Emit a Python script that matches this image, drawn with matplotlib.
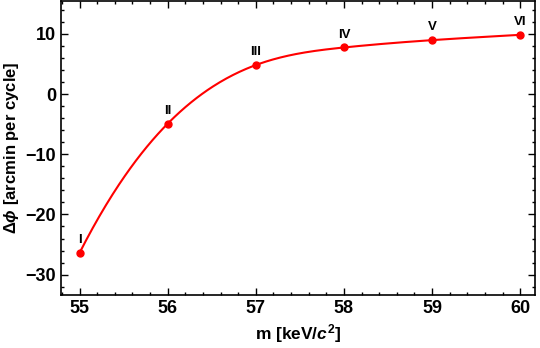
import numpy as np
import matplotlib.pyplot as plt
from matplotlib.ticker import MultipleLocator

# data
mass = [55, 56, 57, 58, 59, 60]
dphi = [-26.4, -4.93, 4.81, 7.73, 8.95, 9.83]
labels = ["I", "II", "III", "IV", "V", "VI"]


def spline_notaknot(x, y, xs):
    # not-a-knot cubic spline through the points, only for drawing the smooth line
    x = np.asarray(x, float)
    y = np.asarray(y, float)
    n = len(x)
    h = np.diff(x)
    A = np.zeros((n, n))
    b = np.zeros(n)
    A[0, 0] = h[1]
    A[0, 1] = -(h[0] + h[1])
    A[0, 2] = h[0]
    A[-1, -3] = h[-1]
    A[-1, -2] = -(h[-2] + h[-1])
    A[-1, -1] = h[-2]
    for i in range(1, n - 1):
        A[i, i - 1] = h[i - 1]
        A[i, i] = 2 * (h[i - 1] + h[i])
        A[i, i + 1] = h[i]
        b[i] = 3 * ((y[i + 1] - y[i]) / h[i] - (y[i] - y[i - 1]) / h[i - 1])
    c = np.linalg.solve(A, b)
    idx = np.clip(np.searchsorted(x, xs) - 1, 0, n - 2)
    dx = xs - x[idx]
    hi = h[idx]
    bb = (y[idx + 1] - y[idx]) / hi - hi * (2 * c[idx] + c[idx + 1]) / 3
    d = (c[idx + 1] - c[idx]) / (3 * hi)
    return y[idx] + bb * dx + c[idx] * dx ** 2 + d * dx ** 3


plt.rcParams['font.family'] = ['Liberation Sans', 'DejaVu Sans']
plt.rcParams['mathtext.fontset'] = 'custom'
plt.rcParams['mathtext.rm'] = 'Liberation Sans:bold'
plt.rcParams['mathtext.it'] = 'Liberation Sans:bold:italic'
plt.rcParams['mathtext.bf'] = 'Liberation Sans:bold'

fig = plt.figure(figsize=(5.4, 3.48), dpi=100)
ax = fig.add_axes([0.113, 0.152, 0.878, 0.846])

xs = np.linspace(mass[0], mass[-1], 400)
ax.plot(xs, spline_notaknot(mass, dphi, xs), color="red", lw=1.5)
ax.plot(mass, dphi, "o", color="red", ms=5)

for m, v, lab in zip(mass, dphi, labels):
    ax.annotate(lab, (m, v), xytext=(0, 5), textcoords="offset points",
                ha="center", va="bottom", fontsize=9.5, fontweight="bold")

ax.set_xlim(54.79, 60.17)
ax.set_ylim(-33.4, 15.5)
ax.xaxis.set_major_locator(MultipleLocator(1))
ax.xaxis.set_minor_locator(MultipleLocator(0.2))
ax.yaxis.set_major_locator(MultipleLocator(10))
ax.yaxis.set_minor_locator(MultipleLocator(2))
ax.tick_params(which="both", direction="in", top=True, right=True, width=1)
ax.tick_params(which="major", length=5, labelsize=13)
ax.tick_params(which="minor", length=2.5)
for lab in ax.get_xticklabels() + ax.get_yticklabels():
    lab.set_fontweight("bold")
for s in ax.spines.values():
    s.set_linewidth(1.2)

ax.set_xlabel(r"m [keV/$c^2$]", fontsize=12.5, fontweight="bold")
ax.set_ylabel(r"$\Delta\phi$ [arcmin per cycle]", fontsize=12, fontweight="bold",
              labelpad=3)

fig.savefig("out.png", dpi=100)
